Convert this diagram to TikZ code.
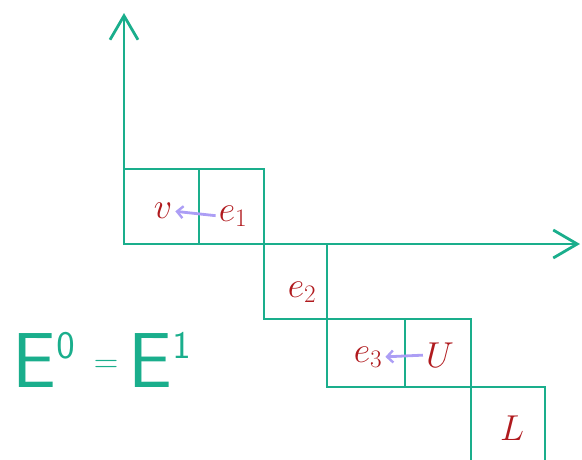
\RequirePackage{fix-cm}
\documentclass[tikz,border=0pt]{standalone}
\usetikzlibrary{arrows.meta}
\definecolor{grn}{RGB}{26,174,140}
\definecolor{rd}{RGB}{176,26,30}
\definecolor{lav}{RGB}{172,158,245}
\begin{document}
\begin{tikzpicture}[x=1pt,y=-1pt,
  axis/.style={draw=grn,line width=2.8pt,-{Straight Barb[length=24pt,width=28pt,line width=2.8pt]}},
  cell/.style={draw=grn,line width=2.8pt},
  lbl/.style={text=rd,inner sep=0pt,font=\fontsize{36}{36}\selectfont},
  mv/.style={draw=lav,line width=2.8pt,-{Straight Barb[length=6pt,width=12pt,line width=2.4pt]},shorten <=3pt,shorten >=3pt},
  eq/.style={text=grn,inner sep=0pt}]
\useasboundingbox (0,0) rectangle (582,459);
% cells
\draw[cell] (124,169) rectangle (199,244);
\draw[cell] (199,169) rectangle (264,244);
\draw[cell] (264,244) rectangle (327,319);
\draw[cell] (327,319) rectangle (405,387);
\draw[cell] (405,319) rectangle (471,387);
\draw[cell] (471,462) -- (471,387) -- (545,387) -- (545,462);
% axes
\coordinate (o) at (124,245);
\coordinate (ytip) at (124,13);
\coordinate (xo) at (124,244);
\coordinate (xtip) at (580,244);
\draw[axis] (o) -- (ytip);
\draw[axis] (xo) -- (xtip);
% labels
\node[lbl] (v) at (163,211) {$v$};
\node[lbl] (e1) at (233,216) {$e_1$};
\node[lbl] (e2) at (302,292) {$e_2$};
\node[lbl] (e3) at (368,357) {$e_3$};
\node[lbl] (u) at (440,355) {$U$};
\node[lbl] (l) at (512,428) {$L$};
\draw[mv] (e1.west) -- (v.east);
\draw[mv] (u.west) -- (e3.east);
% equation
\node[eq,font=\fontsize{78}{78}\selectfont] (E0) at (44,360) {$\mathsf{E}^{\scriptscriptstyle\mathsf{0}}$};
\node[eq,font=\fontsize{34}{34}\selectfont] (eqs) at (106,366) {$=$};
\node[eq,font=\fontsize{78}{78}\selectfont] (E1) at (160,360) {$\mathsf{E}^{\scriptscriptstyle\mathsf{1}}$};
\end{tikzpicture}
\end{document}
